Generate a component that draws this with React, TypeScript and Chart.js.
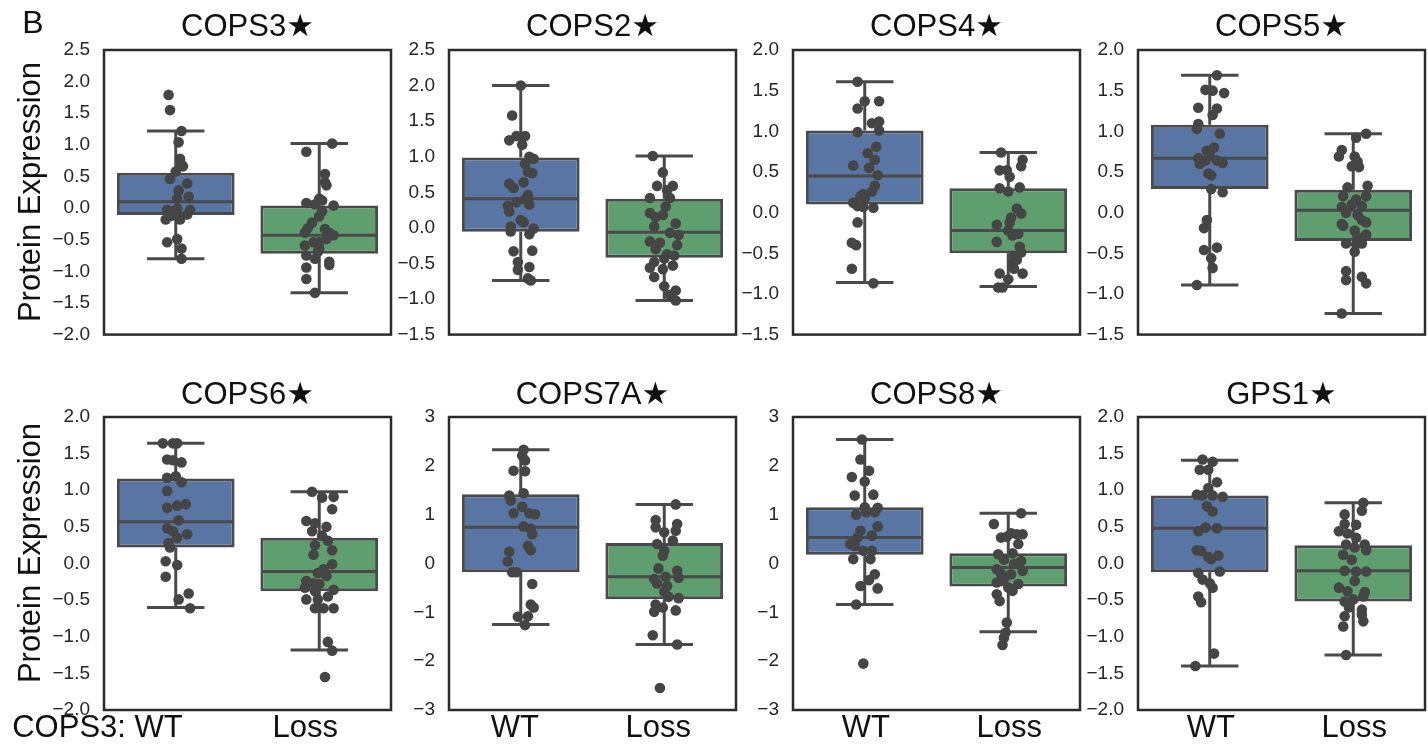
import React, { useEffect, useRef } from "react";
import { Chart, registerables } from "chart.js";

Chart.register(...registerables);

const FONT = '"Liberation Sans", Arial, "DejaVu Sans", sans-serif';
const GROUPS = ["WT", "Loss"];
const BOX_COLORS = ["#5875a4", "#5f9e6e"];
const LINE_GRAY = "#4a4a4a";
const POINT_GRAY = "#454545";

// Box statistics per group: [lower whisker, Q1, median, Q3, upper whisker]
const cops3Box = [[-0.80, -0.11, 0.10, 0.56, 1.22], [-1.34, -0.72, -0.43, 0.04, 1.02]];
const cops2Box = [[-0.74, -0.055, 0.41, 0.99, 2.0], [-1.02, -0.42, -0.06, 0.41, 1.01]];
const cops4Box = [[-0.86, 0.10, 0.45, 1.01, 1.61], [-0.91, -0.50, -0.22, 0.30, 0.74]];
const cops5Box = [[-0.89, 0.29, 0.67, 1.08, 1.69], [-1.24, -0.35, 0.03, 0.28, 0.97]];
const cops6Box = [[-0.60, 0.22, 0.57, 1.16, 1.64], [-1.18, -0.38, -0.11, 0.35, 0.98]];
const cops7aBox = [[-1.25, -0.18, 0.74, 1.42, 2.33], [-1.66, -0.73, -0.27, 0.42, 1.21]];
const cops8Box = [[-0.84, 0.18, 0.53, 1.15, 2.54], [-1.40, -0.47, -0.08, 0.21, 1.03]];
const gps1Box = [[-1.40, -0.12, 0.48, 0.93, 1.41], [-1.25, -0.52, -0.10, 0.25, 0.83]];

// Individual samples: [horizontal jitter (category units), protein expression]
const cops3Wt = [[-0.05,1.79],[-0.04,1.55],[0.04,1.22],[0.02,1.04],[0.03,0.78],[0.04,0.69],[0.05,0.66],[0.00,0.58],[-0.04,0.46],[0.08,0.39],[0.02,0.28],[0.09,0.18],[0.01,0.15],[-0.06,-0.03],[-0.02,-0.05],[0.10,-0.03],[0.01,-0.01],[0.08,-0.10],[-0.03,-0.12],[-0.07,-0.18],[0.03,-0.18],[0.01,-0.49],[-0.06,-0.54],[0.04,-0.64],[0.04,-0.80]];
const cops3Loss = [[0.09,1.02],[-0.09,0.89],[0.04,0.54],[0.04,0.41],[0.05,0.36],[0.00,0.15],[0.02,0.12],[-0.09,0.08],[0.10,0.04],[-0.03,0.06],[0.02,-0.05],[0.00,-0.13],[-0.05,-0.23],[-0.08,-0.32],[0.04,-0.33],[-0.10,-0.39],[0.07,-0.39],[0.10,-0.43],[0.05,-0.49],[-0.04,-0.54],[0.00,-0.54],[-0.10,-0.59],[0.00,-0.64],[-0.01,-0.69],[-0.09,-0.75],[-0.03,-0.80],[0.07,-0.85],[0.07,-0.90],[-0.09,-0.94],[-0.09,-1.12],[-0.03,-1.34]];
const cops2Wt = [[0.00,2.00],[-0.06,1.58],[-0.08,1.23],[-0.03,1.29],[0.03,1.29],[0.01,1.17],[0.06,1.00],[0.09,0.97],[0.03,0.90],[0.05,0.79],[0.08,0.77],[-0.08,0.62],[-0.05,0.56],[0.02,0.64],[0.05,0.46],[0.03,0.40],[-0.03,0.36],[0.06,0.33],[-0.09,0.31],[-0.08,0.23],[0.00,0.11],[0.02,0.08],[-0.07,0.02],[-0.07,-0.05],[0.09,-0.01],[0.06,-0.09],[-0.05,-0.33],[0.08,-0.32],[-0.02,-0.48],[0.06,-0.55],[-0.02,-0.59],[0.05,-0.71],[0.07,-0.74]];
const cops2Loss = [[-0.08,1.01],[-0.01,0.78],[-0.05,0.59],[0.06,0.59],[0.02,0.53],[-0.10,0.42],[0.04,0.42],[0.01,0.30],[-0.10,0.21],[-0.01,0.18],[-0.06,0.15],[0.08,0.06],[-0.07,0.02],[0.04,-0.07],[0.10,-0.10],[-0.10,-0.19],[-0.03,-0.21],[0.09,-0.24],[-0.06,-0.30],[0.02,-0.37],[0.00,-0.43],[0.07,-0.39],[-0.07,-0.48],[0.06,-0.53],[-0.10,-0.56],[-0.01,-0.58],[-0.07,-0.69],[0.00,-0.82],[0.08,-0.88],[0.04,-0.94],[0.08,-1.02]];
const cops4Wt = [[-0.05,1.61],[0.00,1.37],[0.10,1.37],[-0.05,1.28],[0.05,1.10],[0.10,1.12],[0.10,1.01],[-0.05,0.99],[0.08,0.81],[0.02,0.73],[0.07,0.65],[-0.08,0.58],[0.03,0.55],[0.09,0.46],[0.07,0.33],[0.05,0.26],[-0.01,0.23],[-0.03,0.20],[0.00,0.18],[-0.08,0.12],[-0.05,0.08],[-0.01,0.07],[0.06,0.06],[-0.05,-0.12],[-0.09,-0.37],[-0.06,-0.40],[-0.09,-0.69],[0.06,-0.87]];
const cops4Loss = [[-0.05,0.74],[0.10,0.65],[0.09,0.57],[-0.06,0.52],[-0.01,0.52],[0.01,0.44],[-0.06,0.30],[0.08,0.31],[0.00,0.26],[0.06,0.05],[0.09,-0.01],[0.02,-0.06],[0.01,-0.12],[-0.08,-0.15],[0.00,-0.22],[0.07,-0.26],[0.03,-0.28],[-0.08,-0.36],[0.08,-0.42],[0.09,-0.49],[0.04,-0.53],[0.06,-0.58],[0.03,-0.62],[0.04,-0.69],[-0.06,-0.75],[0.10,-0.75],[0.00,-0.82],[-0.07,-0.92],[-0.04,-0.92]];
const cops5Wt = [[0.05,1.69],[-0.03,1.51],[0.02,1.50],[0.10,1.47],[-0.08,1.29],[0.05,1.28],[0.02,1.20],[-0.08,1.09],[-0.09,1.03],[0.07,0.97],[0.03,0.80],[-0.02,0.76],[0.00,0.70],[-0.08,0.67],[-0.03,0.64],[0.09,0.61],[-0.07,0.60],[0.05,0.64],[-0.01,0.48],[0.01,0.46],[0.01,0.29],[0.09,0.25],[-0.02,-0.09],[-0.04,-0.19],[0.05,-0.43],[-0.04,-0.46],[0.01,-0.56],[0.02,-0.68],[-0.09,-0.89]];
const cops5Loss = [[0.09,0.97],[0.02,0.92],[-0.08,0.77],[-0.10,0.69],[0.01,0.69],[0.03,0.63],[-0.01,0.57],[0.04,0.56],[-0.04,0.31],[0.10,0.33],[-0.07,0.20],[0.09,0.20],[0.02,0.16],[-0.01,0.10],[-0.08,0.07],[0.06,0.08],[-0.05,0.00],[0.03,-0.03],[0.06,-0.09],[-0.08,-0.14],[0.09,-0.12],[-0.07,-0.16],[0.01,-0.22],[0.09,-0.27],[0.03,-0.30],[-0.05,-0.38],[0.02,-0.39],[0.06,-0.38],[0.01,-0.48],[-0.05,-0.72],[-0.05,-0.83],[0.06,-0.79],[0.09,-0.87],[-0.08,-1.24]];
const cops6Wt = [[-0.09,1.64],[-0.02,1.64],[0.01,1.64],[-0.06,1.42],[-0.02,1.41],[0.04,1.38],[-0.06,1.17],[0.00,1.19],[0.04,1.11],[-0.06,0.99],[0.07,0.81],[0.01,0.79],[-0.06,0.76],[0.02,0.59],[-0.06,0.48],[-0.02,0.44],[0.08,0.40],[0.01,0.35],[-0.05,0.28],[-0.04,0.22],[-0.07,0.03],[0.01,-0.02],[-0.07,-0.18],[0.09,-0.41],[0.02,-0.49],[0.10,-0.61]];
const cops6Loss = [[-0.05,0.98],[0.02,0.90],[0.10,0.91],[0.09,0.74],[-0.09,0.58],[-0.03,0.55],[0.05,0.50],[-0.05,0.44],[0.02,0.38],[0.06,0.31],[-0.03,0.25],[0.09,0.18],[-0.04,0.12],[0.09,-0.01],[0.03,-0.08],[-0.01,-0.13],[0.05,-0.17],[-0.09,-0.24],[-0.04,-0.27],[0.00,-0.28],[-0.10,-0.33],[-0.03,-0.38],[0.10,-0.36],[-0.09,-0.49],[-0.01,-0.49],[0.06,-0.45],[-0.03,-0.61],[0.03,-0.61],[0.10,-0.61],[0.06,-1.07],[0.09,-1.19],[0.04,-1.55]];
const cops7aWt = [[0.02,2.33],[0.01,2.21],[0.03,2.11],[-0.05,1.90],[0.03,1.89],[-0.08,1.39],[0.02,1.44],[-0.07,1.29],[0.01,1.16],[-0.05,1.03],[0.06,1.03],[0.10,1.01],[0.02,0.76],[0.07,0.71],[0.08,0.60],[0.05,0.36],[0.07,0.27],[-0.08,0.24],[-0.09,0.04],[-0.06,-0.18],[-0.03,-0.18],[0.08,-0.42],[0.07,-0.84],[0.09,-0.90],[-0.02,-1.09],[0.05,-1.08],[0.03,-1.26]];
const cops7aLoss = [[0.08,1.21],[-0.06,0.89],[-0.06,0.74],[0.09,0.81],[0.00,0.64],[0.08,0.67],[0.06,0.47],[-0.05,0.40],[0.00,0.26],[-0.01,0.16],[-0.04,-0.10],[0.09,-0.15],[-0.07,-0.32],[0.01,-0.27],[0.10,-0.29],[-0.05,-0.41],[0.02,-0.46],[0.00,-0.58],[0.03,-0.68],[0.10,-0.71],[-0.06,-0.84],[-0.01,-0.90],[-0.07,-0.99],[0.08,-0.96],[-0.08,-1.47],[0.09,-1.66],[-0.03,-2.55]];
const cops8Wt = [[-0.02,2.54],[-0.03,2.13],[0.03,1.90],[-0.09,1.77],[0.00,1.68],[-0.07,1.39],[0.06,1.41],[0.00,1.15],[0.09,1.14],[-0.06,1.00],[0.01,1.05],[0.07,1.05],[0.09,0.76],[-0.03,0.67],[0.05,0.57],[-0.05,0.53],[-0.10,0.40],[-0.07,0.36],[0.05,0.26],[-0.01,0.26],[-0.08,0.09],[0.04,0.09],[0.07,-0.22],[0.03,-0.34],[-0.03,-0.46],[0.09,-0.51],[-0.06,-0.84],[-0.01,-2.05]];
const cops8Loss = [[0.09,1.03],[-0.10,0.81],[-0.05,0.53],[-0.01,0.55],[0.02,0.62],[0.06,0.60],[0.10,0.60],[0.07,0.40],[-0.07,0.19],[0.03,0.21],[-0.03,0.08],[0.09,0.05],[0.04,-0.01],[0.10,-0.15],[-0.08,-0.12],[-0.05,-0.21],[0.02,-0.22],[-0.03,-0.32],[0.07,-0.42],[-0.08,-0.39],[0.03,-0.56],[0.00,-0.49],[-0.08,-0.63],[-0.06,-0.77],[-0.01,-1.21],[-0.02,-1.42],[-0.03,-1.52],[-0.04,-1.67]];
const gps1Wt = [[-0.05,1.42],[0.02,1.39],[-0.07,1.28],[-0.01,1.28],[0.05,1.11],[-0.01,1.03],[-0.09,0.94],[-0.05,0.93],[0.02,0.93],[0.09,0.91],[-0.02,0.78],[0.02,0.71],[-0.08,0.44],[-0.03,0.49],[0.05,0.48],[-0.09,0.18],[-0.06,0.17],[-0.01,0.09],[0.06,0.11],[0.01,0.06],[-0.08,-0.13],[0.07,-0.11],[-0.05,-0.22],[0.00,-0.27],[0.02,-0.33],[-0.08,-0.45],[-0.06,-0.53],[0.03,-1.23],[-0.10,-1.40]];
const gps1Loss = [[0.07,0.83],[0.06,0.72],[-0.06,0.67],[-0.06,0.54],[0.02,0.53],[-0.10,0.44],[-0.04,0.41],[0.02,0.35],[-0.05,0.26],[0.08,0.26],[0.09,0.18],[-0.07,0.12],[-0.01,0.05],[0.01,0.22],[-0.06,-0.10],[0.09,-0.11],[0.02,-0.11],[0.01,-0.24],[-0.10,-0.33],[-0.04,-0.38],[0.08,-0.39],[0.07,-0.45],[0.00,-0.49],[-0.06,-0.52],[-0.03,-0.60],[0.06,-0.63],[0.06,-0.70],[-0.06,-0.72],[0.07,-0.79],[-0.07,-0.86],[-0.05,-1.25]];

// Y-axis ranges: [min, max, step, decimals]
const cops3Axis = [-2.0, 2.5, 0.5, 1];
const cops2Axis = [-1.5, 2.5, 0.5, 1];
const cops4Axis = [-1.5, 2.0, 0.5, 1];
const cops5Axis = [-1.5, 2.0, 0.5, 1];
const cops6Axis = [-2.0, 2.0, 0.5, 1];
const cops7aAxis = [-3, 3, 1, 0];
const cops8Axis = [-3, 3, 1, 0];
const gps1Axis = [-2.0, 2.0, 0.5, 1];

const PANELS = [
  { title: "COPS3\u2605", box: cops3Box, wt: cops3Wt, loss: cops3Loss, axis: cops3Axis },
  { title: "COPS2\u2605", box: cops2Box, wt: cops2Wt, loss: cops2Loss, axis: cops2Axis },
  { title: "COPS4\u2605", box: cops4Box, wt: cops4Wt, loss: cops4Loss, axis: cops4Axis },
  { title: "COPS5\u2605", box: cops5Box, wt: cops5Wt, loss: cops5Loss, axis: cops5Axis },
  { title: "COPS6\u2605", box: cops6Box, wt: cops6Wt, loss: cops6Loss, axis: cops6Axis },
  { title: "COPS7A\u2605", box: cops7aBox, wt: cops7aWt, loss: cops7aLoss, axis: cops7aAxis },
  { title: "COPS8\u2605", box: cops8Box, wt: cops8Wt, loss: cops8Loss, axis: cops8Axis },
  { title: "GPS1\u2605", box: gps1Box, wt: gps1Wt, loss: gps1Loss, axis: gps1Axis },
];

// Page layout (pixels)
const FRAME_LEFTS = [104, 449, 793, 1138];
const FRAME_W = 287;
const AXIS_W = 104;
const RIGHT_PAD = 6;
const LINE_W = 3;
const ROWS = [
  { top: 0, height: 360, padTop: 50, padBottom: 17, titleY: 27, ylabelY: 192 },
  { top: 360, height: 388, padTop: 57, padBottom: 38, titleY: 35, ylabelY: 193 },
];
// horizontal nudges of the category labels under the bottom row
const XLABEL_NUDGE = [[7, -14], [-6, -6], [1, 1], [1, 1]];

function fmtTick(v: number, dec: number) {
  const s = Math.abs(v).toFixed(dec);
  return v < -1e-9 ? "\u2212" + s : s;
}

function boxLines(box: number[][]) {
  const pts: { x: number; y: number | null }[] = [];
  const seg = (x1: number, y1: number, x2: number, y2: number) => {
    pts.push({ x: x1, y: y1 }, { x: x2, y: y2 }, { x: x2, y: null });
  };
  box.forEach(([lo, q1, med, q3, hi], i) => {
    seg(i, q3, i, hi);
    seg(i, q1, i, lo);
    seg(i - 0.2, hi, i + 0.2, hi);
    seg(i - 0.2, lo, i + 0.2, lo);
    seg(i - 0.4, med, i + 0.4, med);
  });
  return pts;
}

function Panel({ index }: { index: number }) {
  const ref = useRef<HTMLCanvasElement | null>(null);
  const spec = PANELS[index];
  const col = index % 4;
  const rowIdx = Math.floor(index / 4);
  const row = ROWS[rowIdx];
  const canvasLeft = FRAME_LEFTS[col] - AXIS_W;
  const width = AXIS_W + FRAME_W + RIGHT_PAD;

  useEffect(() => {
    const [yMin, yMax, step, dec] = spec.axis;
    const points = [
      ...spec.wt.map(([dx, y]) => ({ x: 0 + dx, y })),
      ...spec.loss.map(([dx, y]) => ({ x: 1 + dx, y })),
    ];

    const decor = {
      id: "panelDecor",
      afterDatasetsDraw(chart: any) {
        const { ctx, chartArea: a } = chart;
        ctx.save();
        ctx.strokeStyle = "#2b2b2b";
        ctx.lineWidth = 2.5;
        ctx.strokeRect(a.left, a.top, a.right - a.left, a.bottom - a.top);
        ctx.restore();
      },
      afterDraw(chart: any) {
        const { ctx, chartArea: a } = chart;
        const xs = chart.scales.xj;
        ctx.save();
        ctx.fillStyle = "#111";
        ctx.font = `31px ${FONT}`;
        ctx.textAlign = "center";
        ctx.textBaseline = "middle";
        ctx.fillText(spec.title, (a.left + a.right) / 2, row.titleY);

        if (col === 0) {
          ctx.save();
          ctx.translate(40, row.ylabelY);
          ctx.rotate(-Math.PI / 2);
          ctx.textAlign = "center";
          ctx.textBaseline = "alphabetic";
          ctx.fillText("Protein Expression", 0, 0);
          ctx.restore();
        }
        if (index === 0) {
          ctx.font = `32px ${FONT}`;
          ctx.textAlign = "center";
          ctx.textBaseline = "alphabetic";
          ctx.fillText("B", 33, 33);
        }
        if (rowIdx === 1) {
          ctx.font = `31px ${FONT}`;
          ctx.textBaseline = "alphabetic";
          const nudge = XLABEL_NUDGE[col];
          GROUPS.forEach((g, i) => {
            const px = xs.getPixelForValue(i) + nudge[i];
            if (col === 0 && i === 0) {
              ctx.textAlign = "right";
              ctx.fillText("COPS3: " + g, px, 377);
            } else {
              ctx.textAlign = "center";
              ctx.fillText(g, px, 377);
            }
          });
        }
        ctx.restore();
      },
    };

    const chart = new Chart(ref.current as HTMLCanvasElement, {
      type: "bar",
      data: {
        labels: GROUPS,
        datasets: [
          {
            type: "bar",
            xAxisID: "x",
            yAxisID: "y",
            data: spec.box.map((b) => [b[1], b[3]]),
            backgroundColor: BOX_COLORS,
            borderColor: LINE_GRAY,
            borderWidth: LINE_W,
            borderSkipped: false,
            grouped: false,
            categoryPercentage: 1,
            barPercentage: 0.82,
            order: 2,
          } as any,
          {
            type: "line",
            xAxisID: "xj",
            yAxisID: "y",
            data: boxLines(spec.box),
            borderColor: LINE_GRAY,
            borderWidth: LINE_W,
            borderCapStyle: "butt",
            pointRadius: 0,
            spanGaps: false,
            fill: false,
            tension: 0,
            order: 1,
          } as any,
          {
            type: "scatter",
            xAxisID: "xj",
            yAxisID: "y",
            data: points,
            pointRadius: 5.3,
            pointHoverRadius: 5.3,
            pointBackgroundColor: POINT_GRAY,
            pointBorderWidth: 0,
            order: 0,
          } as any,
        ],
      },
      options: {
        responsive: false,
        animation: false,
        events: [],
        layout: { padding: { left: 0, right: RIGHT_PAD, top: row.padTop, bottom: row.padBottom } },
        plugins: { legend: { display: false }, tooltip: { enabled: false }, title: { display: false } },
        scales: {
          x: { type: "category", offset: true, display: false, grid: { display: false } },
          xj: { type: "linear", min: -0.5, max: 1.5, offset: false, display: false, grid: { display: false } },
          y: {
            type: "linear",
            position: "left",
            min: yMin,
            max: yMax,
            grid: { display: false, drawTicks: false },
            border: { display: false },
            ticks: {
              stepSize: step,
              autoSkip: false,
              padding: 14,
              color: "#262626",
              font: { family: FONT, size: 19 },
              callback: (v: any) => fmtTick(Number(v), dec),
            },
            afterFit: (scale: any) => {
              scale.width = AXIS_W;
            },
          },
        },
      } as any,
      plugins: [decor],
    });
    return () => chart.destroy();
  }, []);

  return (
    <canvas
      ref={ref}
      width={width}
      height={row.height}
      style={{ position: "absolute", left: canvasLeft, top: row.top, width, height: row.height }}
    />
  );
}

export default function App() {
  return (
    <div style={{ position: "absolute", left: 0, top: 0, width: 1428, height: 748, background: "#fff", overflow: "hidden" }}>
      {PANELS.map((_, i) => (
        <Panel key={i} index={i} />
      ))}
    </div>
  );
}
